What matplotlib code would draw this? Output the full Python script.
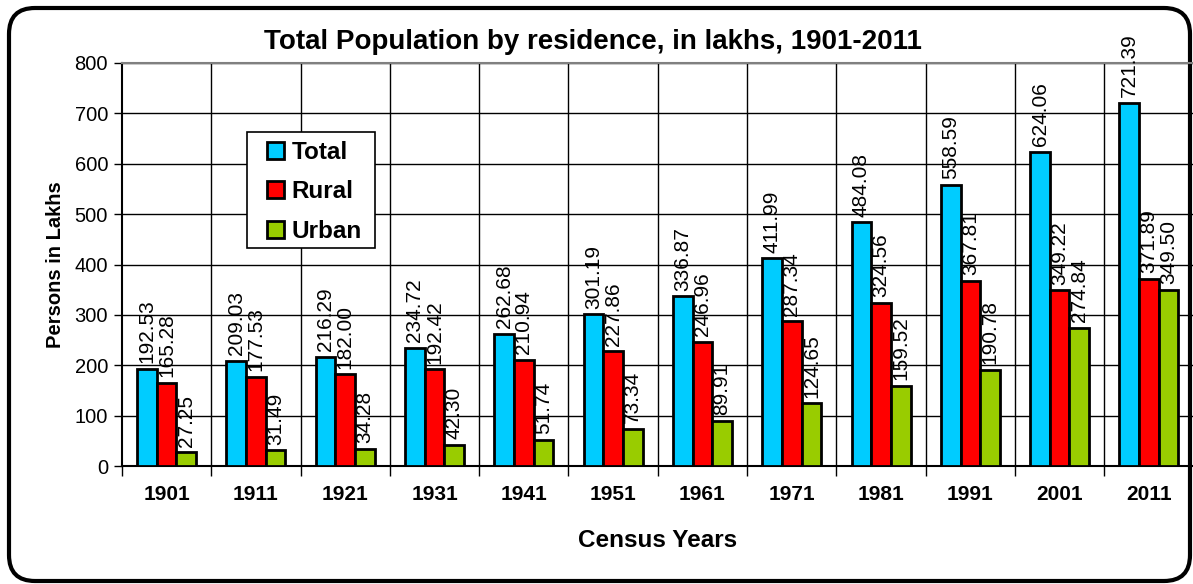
import numpy as np
import matplotlib
matplotlib.use('Agg')
import matplotlib.pyplot as plt
from matplotlib.patches import FancyBboxPatch, Rectangle
from matplotlib.transforms import IdentityTransform

plt.rcParams['font.family'] = ['Liberation Sans', 'DejaVu Sans']

years = ['1901', '1911', '1921', '1931', '1941', '1951',
         '1961', '1971', '1981', '1991', '2001', '2011']
total = [192.53, 209.03, 216.29, 234.72, 262.68, 301.19,
         336.87, 411.99, 484.08, 558.59, 624.06, 721.39]
rural = [165.28, 177.53, 182.00, 192.42, 210.94, 227.86,
         246.96, 287.34, 324.56, 367.81, 349.22, 371.89]
urban = [27.25, 31.49, 34.28, 42.30, 51.74, 73.34,
         89.91, 124.65, 159.52, 190.78, 274.84, 349.50]

series = [('Total', total, '#00CCFF'),
          ('Rural', rural, '#FF0000'),
          ('Urban', urban, '#99CC00')]

W, H = 1193, 584
fig = plt.figure(figsize=(W / 100, H / 100), dpi=100)

# rounded outer frame (pixel coords)
frame = FancyBboxPatch((9, 3), 1181, 573,
                       boxstyle='round,pad=0,rounding_size=26',
                       transform=IdentityTransform(), facecolor='white',
                       edgecolor='black', linewidth=3, zorder=-10)
fig.patches.append(frame)

ax = fig.add_axes([122 / W, (H - 466) / H, 1071.6 / W, 403 / H])
ax.set_facecolor('none')

x = np.arange(len(years))
bw = 0.22
for i, (name, vals, col) in enumerate(series):
    pos = x + (i - 1) * bw
    ax.bar(pos, vals, bw, color=col, edgecolor='black', linewidth=2,
           label=name, zorder=3)
    for p, v in zip(pos, vals):
        ax.annotate('%.2f' % v, (p, v), xytext=(0, 4), textcoords='offset points',
                    rotation=90, ha='center', va='bottom', fontsize=15, zorder=4)

ax.set_xlim(-0.5, len(years) - 0.5)
ax.set_ylim(0, 800)
ax.set_yticks(range(0, 801, 100))
ax.tick_params(axis='y', labelsize=14.5, length=6, width=1, direction='out', pad=4)
ax.yaxis.grid(True, color='black', linewidth=1)

ax.set_xticks(x)
ax.set_xticklabels(years, fontsize=15, fontweight='bold')
ax.tick_params(axis='x', length=0, pad=14)
ax.set_xticks(np.arange(-0.5, len(years) - 0.4, 1), minor=True)
ax.tick_params(axis='x', which='minor', length=7, width=1)
for b in np.arange(0.5, len(years) - 0.5, 1):
    ax.axvline(b, color='black', linewidth=1, zorder=1)
ax.set_axisbelow(True)

ax.spines['right'].set_visible(False)
ax.spines['top'].set_color('#808080')
ax.spines['top'].set_linewidth(1.5)
ax.spines['left'].set_linewidth(1.5)
ax.spines['bottom'].set_linewidth(1.5)

ax.set_ylabel('Persons in Lakhs', fontsize=14.5, fontweight='bold', labelpad=7)
ax.set_xlabel('Census Years', fontsize=17.5, fontweight='bold', labelpad=18)
fig.text(593 / W, 1 - 42 / H, 'Total Population by residence, in lakhs, 1901-2011',
         ha='center', va='center', fontsize=20, fontweight='bold')

# legend box drawn separately so padding can differ horizontally / vertically
ax.add_patch(Rectangle((0.1166, 0.541), 0.1194, 0.288, transform=ax.transAxes,
                       facecolor='white', edgecolor='black', linewidth=1.2,
                       zorder=9, clip_on=False))
leg = ax.legend(loc='upper left', bbox_to_anchor=(0.1353, 0.807), borderaxespad=0,
                frameon=False, prop={'size': 17.5, 'weight': 'bold'},
                handlelength=0.7, handleheight=0.7, handletextpad=0.3,
                labelspacing=0.68, borderpad=0)
leg.set_zorder(10)

fig.savefig('out.png', dpi=100)
